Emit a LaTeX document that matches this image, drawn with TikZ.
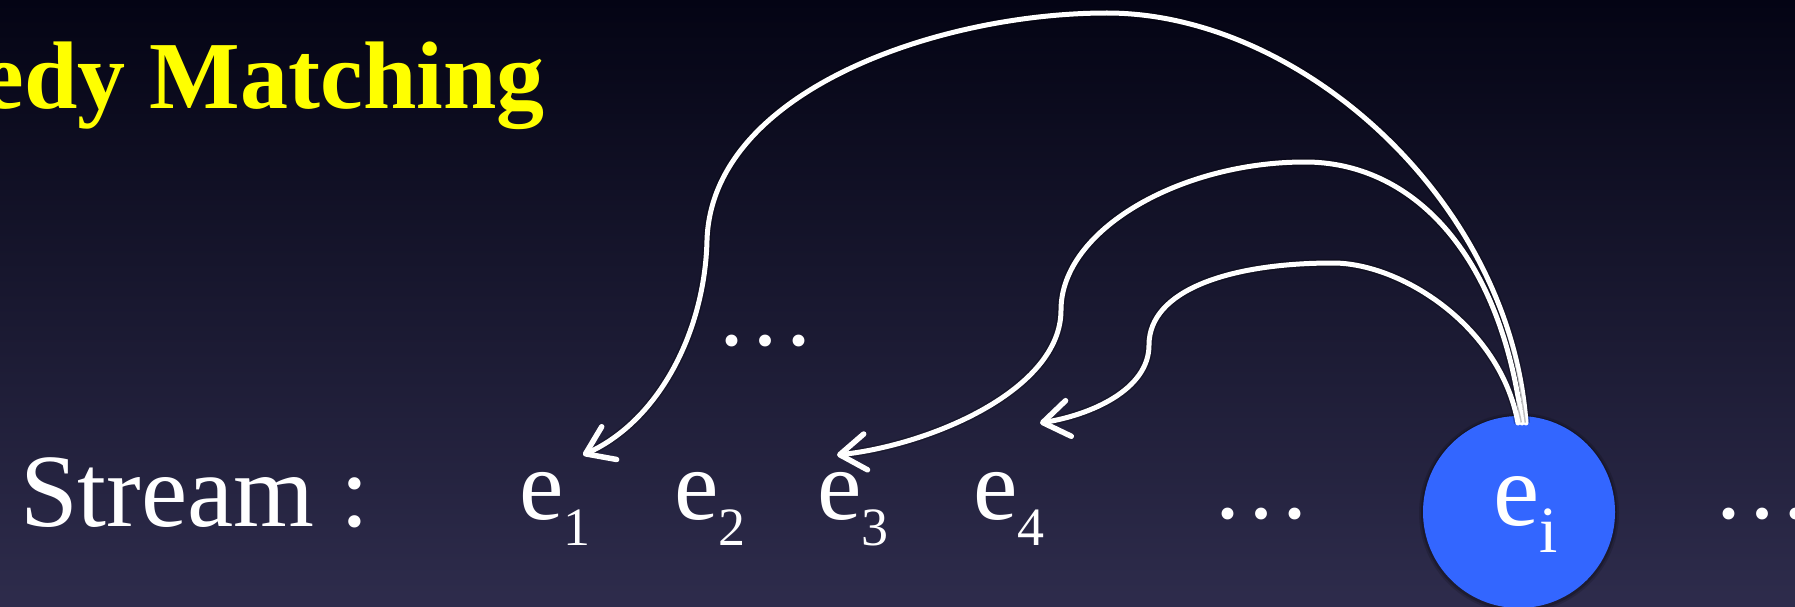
\documentclass[tikz,border=0pt]{standalone}
\usepackage{fontspec}
\setmainfont{Liberation Serif}
\usetikzlibrary{arrows.meta}
\definecolor{bgtop}{RGB}{4,4,20}
\definecolor{bgmid}{RGB}{12,12,42}
\definecolor{bgbot}{RGB}{46,44,76}
\definecolor{ttlyellow}{RGB}{255,255,0}
\definecolor{eblue}{RGB}{51,102,255}
\newcommand{\myev}[1]{{\fontsize{100}{100}\selectfont e}\raisebox{-26pt}{\fontsize{54}{54}\selectfont #1}}
\begin{document}
\begin{tikzpicture}[x=1pt,y=-1pt,
  txt/.style={inner sep=0pt, outer sep=0pt, text=white, anchor=base west},
  dotsnode/.style={inner sep=0pt, outer sep=0pt, text=white, anchor=base, font=\fontsize{100}{100}\selectfont},
  evcircle/.style={circle, fill=eblue, minimum size=192pt, inner sep=0pt, outer sep=0pt},
  link/.style={draw=white, line width=5pt, line cap=round,
    preaction={draw=black, opacity=0.25, line width=8pt},
    -{Straight Barb[length=26pt,width=36pt,line width=5.5pt,round]}}
]
\shade[top color=bgtop, middle color=bgmid, bottom color=bgbot] (0,0) rectangle (1795,607);
\useasboundingbox (0,0) rectangle (1795,607);
\clip (0,0) rectangle (1795,607);

\node[txt, text=ttlyellow] (title) at (-18,109) {\fontsize{96}{96}\selectfont\bfseries edy Matching};
\node[txt] (stream) at (20,526) {\fontsize{104}{104}\selectfont Stream :};

\node[txt] (e1) at (519.5,519) {\myev{1}};
\node[txt] (e2) at (674.5,519) {\myev{2}};
\node[txt] (e3) at (817.5,519) {\myev{3}};
\node[txt] (e4) at (973,519) {\myev{4}};

\node[dotsnode] (dotsup) at (765,345) {…};
\node[dotsnode] (dotsmid) at (1261,518) {…};
\node[dotsnode] (dotsright) at (1762,518) {…};

\fill[black, opacity=0.15] (1519,513) circle (100pt);
\fill[black, opacity=0.22] (1519,513) circle (98pt);
\node[evcircle] (ei) at (1519,512) {};
\node[txt] (eilabel) at (1493,525) {{\fontsize{104}{104}\selectfont e}\raisebox{-27pt}{\fontsize{66}{66}\selectfont i}};

\coordinate (sA) at ([xshift=7pt,yshift=-7pt]ei.north);
\coordinate (sB) at ([xshift=3pt,yshift=-7pt]ei.north);
\coordinate (sC) at ([xshift=-1pt,yshift=-7pt]ei.north);
\coordinate (tA) at (583,455);
\coordinate (tB) at (837,455);
\coordinate (tC) at (1040,423);

\draw[link] (sA) .. controls (1510,200) and (1300,13) .. (1107,13)
  .. controls (940,13) and (712,90) .. (707,240)
  .. controls (705,330) and (660,420) .. (tA);
\draw[link] (sB) .. controls (1500,250) and (1410,162) .. (1305,162)
  .. controls (1180,162) and (1061,230) .. (1061,310)
  .. controls (1061,390) and (930,445) .. (tB);
\draw[link] (sC) .. controls (1500,325) and (1400,263) .. (1333,263)
  .. controls (1230,263) and (1149,290) .. (1149,345)
  .. controls (1149,390) and (1090,415) .. (tC);
\end{tikzpicture}
\end{document}
